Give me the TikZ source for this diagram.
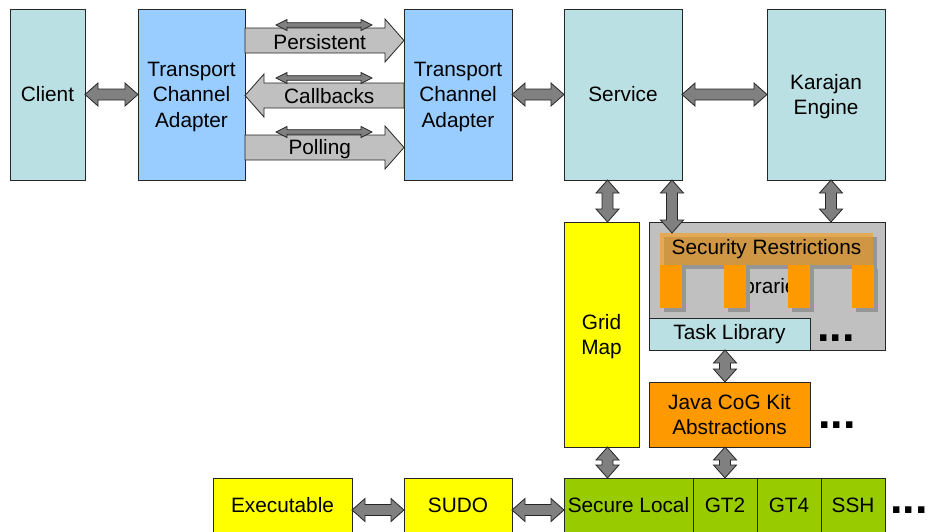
\documentclass[tikz,border=0pt]{standalone}
\usepackage{fontspec}
\setmainfont{Liberation Sans}
\usetikzlibrary{positioning,calc}

\definecolor{tealbox}{RGB}{187,224,227}
\definecolor{tcablue}{RGB}{153,204,255}
\definecolor{mapyellow}{RGB}{255,255,0}
\definecolor{cogorange}{RGB}{255,153,0}
\definecolor{provgreen}{RGB}{153,204,0}
\definecolor{greybox}{RGB}{192,192,192}
\definecolor{arrowgrey}{RGB}{128,128,128}
\definecolor{shadowgrey}{RGB}{150,150,150}

\tikzset{
  box/.style={draw=black!85, line width=0.9pt, rectangle, inner sep=0pt, outer sep=0pt, align=center,
    font=\fontsize{20.8}{25.5}\selectfont},
  lowtext/.style={text height=15pt, text depth=10pt},
  flattext/.style={text depth=0pt},
  flowtext/.style={inner sep=0pt, font=\fontsize{20.8}{25}\selectfont},
  dots/.style={anchor=west, inner sep=0pt, font=\fontsize{45}{45}\selectfont\bfseries},
  fatdims/.code args={#1/#2/#3}{\def\ahl{#1pt}\def\ahw{#2pt}\def\asw{#3pt}},
  twoway/.style={draw=black!85, fill=arrowgrey, line width=0.8pt, line join=miter,
    fatdims=13/11.5/5.5,
    to path={(\tikztostart)
      -- ($(\tikztostart)!\ahl!(\tikztotarget)!\ahw!90:(\tikztotarget)$)
      -- ($(\tikztostart)!\ahl!(\tikztotarget)!\asw!90:(\tikztotarget)$)
      -- ($(\tikztotarget)!\ahl!(\tikztostart)!\asw!-90:(\tikztostart)$)
      -- ($(\tikztotarget)!\ahl!(\tikztostart)!\ahw!-90:(\tikztostart)$)
      -- (\tikztotarget)
      -- ($(\tikztotarget)!\ahl!(\tikztostart)!\ahw!90:(\tikztostart)$)
      -- ($(\tikztotarget)!\ahl!(\tikztostart)!\asw!90:(\tikztostart)$)
      -- ($(\tikztostart)!\ahl!(\tikztotarget)!\asw!-90:(\tikztotarget)$)
      -- ($(\tikztostart)!\ahl!(\tikztotarget)!\ahw!-90:(\tikztotarget)$)
      -- cycle}},
  thinway/.style={twoway, fatdims=11/5.5/2.3},
  oneway/.style={draw=black!85, fill=greybox, line width=0.8pt, line join=miter,
    fatdims=19/21.5/12.5,
    to path={($(\tikztostart)!\asw!90:(\tikztotarget)$)
      -- ($(\tikztotarget)!\ahl!(\tikztostart)!\asw!-90:(\tikztostart)$)
      -- ($(\tikztotarget)!\ahl!(\tikztostart)!\ahw!-90:(\tikztostart)$)
      -- (\tikztotarget)
      -- ($(\tikztotarget)!\ahl!(\tikztostart)!\ahw!90:(\tikztostart)$)
      -- ($(\tikztotarget)!\ahl!(\tikztostart)!\asw!90:(\tikztostart)$)
      -- ($(\tikztostart)!\asw!-90:(\tikztotarget)$)
      -- cycle}}
}

\begin{document}
\begin{tikzpicture}[x=1pt, y=-1pt, node distance=52pt]
    \useasboundingbox (0,0) rectangle (928,531);
    \clip (0,0) rectangle (928,531);

    \node[box,fill=tealbox,minimum width=75pt,minimum height=171pt,anchor=north west] (client) at (10,9) {Client};
    \node[box,flattext,fill=tcablue,minimum width=107pt,minimum height=171pt,right=53pt of client] (tcaL) {Transport\\Channel\\Adapter};
    \node[box,flattext,fill=tcablue,minimum width=108pt,minimum height=171pt,right=159pt of tcaL] (tcaR) {Transport\\Channel\\Adapter};
    \node[box,fill=tealbox,minimum width=118pt,minimum height=171pt,right=of tcaR] (service) {Service};
    \node[box,flattext,fill=tealbox,minimum width=118pt,minimum height=171pt,right=85pt of service] (karajan) {Karajan\\Engine};

    \node[box,flattext,fill=mapyellow,minimum width=75pt,minimum height=225pt,below=42pt of service.south west,anchor=north west] (gridmap) {Grid\\Map};
    \node[box,fill=greybox,minimum width=236pt,minimum height=128pt,below=42pt of karajan.south east,anchor=north east] (libs) {Libraries};

    \coordinate (bandNW) at ([shift={(11,11)}]libs.north west);
    \fill[shadowgrey] ([shift={(4,4)}]bandNW) rectangle ++(213,32);
    \foreach \i in {0,...,3} {
        \fill[shadowgrey] ([shift={(\i*64+4,36)}]bandNW) rectangle ++(22,43);
        \fill[cogorange] ([shift={(\i*64,32)}]bandNW) rectangle ++(22,43);
    }
    \node[fill=cogorange,fill opacity=0.55,text opacity=1,inner sep=0pt,outer sep=0pt,minimum width=213pt,minimum height=32pt,anchor=north west,font=\fontsize{20.8}{25}\selectfont] (secrest) at (bandNW) {Security Restrictions};

    \node[box,fill=tealbox,minimum width=161pt,minimum height=32pt,anchor=south west] (tasklib) at (libs.south west) {Task Library};
    \node[box,fill=cogorange,minimum width=161pt,minimum height=65pt,below=32pt of tasklib] (cog) {Java CoG Kit\\Abstractions};

    \node[box,lowtext,fill=provgreen,minimum width=129pt,minimum height=64pt,below=31pt of gridmap.south west,anchor=north west] (seclocal) {Secure Local};
    \node[box,lowtext,fill=provgreen,minimum width=64pt,minimum height=64pt,right=0pt of seclocal] (gt2) {GT2};
    \node[box,lowtext,fill=provgreen,minimum width=64pt,minimum height=64pt,right=0pt of gt2] (gt4) {GT4};
    \node[box,lowtext,fill=provgreen,minimum width=64pt,minimum height=64pt,right=0pt of gt4] (ssh) {SSH};
    \node[box,lowtext,fill=mapyellow,minimum width=108pt,minimum height=64pt,left=of seclocal] (sudo) {SUDO};
    \node[box,lowtext,fill=mapyellow,minimum width=139pt,minimum height=64pt,left=of sudo] (exec) {Executable};

    \node[dots] (moreLibs) at ([shift={(7,4)}]tasklib.east) {...};
    \node[dots] (moreCog) at ([shift={(8,10.5)}]cog.east) {...};
    \node[dots] (moreProv) at ([shift={(5,0)}]ssh.east) {...};

    \coordinate (persT) at (tcaL.east |- 0,40.5);
    \coordinate (persH) at (tcaR.west |- 0,40.5);
    \coordinate (cbT) at (tcaR.west |- 0,95.5);
    \coordinate (cbH) at (tcaL.east |- 0,95.5);
    \coordinate (pollT) at (tcaL.east |- 0,147.5);
    \coordinate (pollH) at (tcaR.west |- 0,147.5);
    \path (persT) edge[oneway] (persH);
    \path (cbT) edge[oneway] (cbH);
    \path (pollT) edge[oneway] (pollH);
    \node[flowtext] (persist) at ($(persT)!0.47!(persH)+(0,2)$) {Persistent};
    \node[flowtext] (callback) at ($(cbT)!0.47!(cbH)+(0,1)$) {Callbacks};
    \node[flowtext] (polling) at ($(pollT)!0.47!(pollH)+(0,2)$) {Polling};

    \coordinate (persL) at (276,25);
    \coordinate (persR) at (372,25);
    \coordinate (cbL) at (276,78);
    \coordinate (cbR) at (372,78);
    \coordinate (pollL) at (276,132);
    \coordinate (pollR) at (372,132);
    \path (persL) edge[thinway] (persR);
    \path (cbL) edge[thinway] (cbR);
    \path (pollL) edge[thinway] (pollR);

    \coordinate (gmN) at ([xshift=6pt]gridmap.north);
    \coordinate (gmS) at ([xshift=6pt]gridmap.south);
    \coordinate (svcS) at ([xshift=-10pt]service.south east);
    \coordinate (karS) at ([xshift=5pt]karajan.south);

    \path (client.east) edge[twoway] (tcaL.west);
    \path (tcaR.east) edge[twoway] (service.west);
    \path (service.east) edge[twoway] (karajan.west);
    \path (gmN |- service.south) edge[twoway] (gmN);
    \path (svcS) edge[twoway] (svcS |- secrest.north);
    \path (karS) edge[twoway] (karS |- libs.north);
    \path (tasklib.south -| gt2.north) edge[twoway] (cog.north -| gt2.north);
    \path (cog.south -| gt2.north) edge[twoway] (gt2.north);
    \path (gmS) edge[twoway] (gmS |- seclocal.north);
    \path (exec.east) edge[twoway] (sudo.west);
    \path (sudo.east) edge[twoway] (seclocal.west);
\end{tikzpicture}
\end{document}
